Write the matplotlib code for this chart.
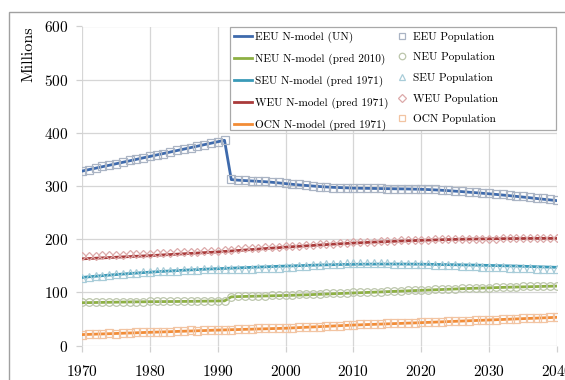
import matplotlib
matplotlib.use("Agg")
import matplotlib.pyplot as plt
from matplotlib.patches import Rectangle

plt.rcParams["font.family"] = ["cmr10", "DejaVu Serif"]
plt.rcParams["axes.formatter.use_mathtext"] = True

years = list(range(1970, 2041))

# N-model curves (millions)
eeu_model = [328, 330.8, 333.5, 336.3, 339, 341.8, 344.6, 347.3, 350.1, 352.9,
             355.6, 358.4, 361.1, 363.9, 366.7, 369.4, 372.2, 374.9, 377.7, 380.5,
             383.2, 386, 312, 311, 310.2, 309.5, 308.8, 308, 307, 305.8,
             304.5, 303.2, 302, 301, 300, 299, 298.2, 297.5, 297, 296.5,
             296, 295.8, 295.6, 295.4, 295.2, 295, 294.8, 294.6, 294.4, 294.1,
             293.8, 293.3, 292.7, 292, 291.2, 290.3, 289.4, 288.4, 287.4, 286.4,
             285.3, 284.2, 283, 281.8, 280.5, 279.2, 277.9, 276.5, 275.1, 273.8,
             272.5]
neu_model = [80.5, 80.7, 80.9, 81.1, 81.3, 81.5, 81.7, 81.9, 82.1, 82.2,
             82.4, 82.5, 82.6, 82.7, 82.8, 82.9, 83.0, 83.2, 83.4, 83.6,
             83.8, 84.0, 91.5, 92.0, 92.3, 92.6, 92.9, 93.2, 93.5, 93.8,
             94.1, 94.5, 94.9, 95.3, 95.8, 96.3, 96.8, 97.3, 97.8, 98.3,
             98.8, 99.3, 99.8, 100.3, 100.8, 101.3, 101.8, 102.3, 102.8, 103.3,
             103.8, 104.3, 104.8, 105.3, 105.8, 106.3, 106.8, 107.3, 107.7, 108.1,
             108.5, 108.9, 109.3, 109.7, 110.0, 110.3, 110.6, 110.9, 111.2, 111.5,
             111.8]
seu_model = [128, 129.2, 130.3, 131.4, 132.4, 133.4, 134.4, 135.3, 136.2, 137.1,
             137.9, 138.7, 139.5, 140.2, 140.9, 141.6, 142.2, 142.8, 143.4, 144.0,
             144.5, 145.0, 145.5, 146.0, 146.5, 147.0, 147.5, 148.0, 148.5, 149.0,
             149.4, 149.8, 150.2, 150.6, 151.0, 151.4, 151.7, 152.0, 152.3, 152.5,
             152.7, 152.9, 153.0, 153.1, 153.2, 153.2, 153.2, 153.2, 153.1, 153.0,
             152.9, 152.7, 152.5, 152.3, 152.1, 151.9, 151.7, 151.4, 151.2, 150.9,
             150.6, 150.3, 150.0, 149.7, 149.4, 149.0, 148.6, 148.2, 147.8, 147.4,
             147.0]
weu_model = [163, 163.6, 164.2, 164.8, 165.4, 166, 166.6, 167.2, 167.8, 168.4,
             169, 169.7, 170.4, 171.1, 171.8, 172.5, 173.2, 173.9, 174.6, 175.3,
             176, 176.9, 177.8, 178.7, 179.6, 180.5, 181.4, 182.3, 183.2, 184.1,
             185, 185.8, 186.6, 187.4, 188.2, 189, 189.8, 190.6, 191.3, 192,
             192.7, 193.3, 193.9, 194.5, 195, 195.5, 196, 196.5, 197, 197.4,
             197.8, 198.2, 198.6, 199, 199.3, 199.6, 199.9, 200.1, 200.3, 200.5,
             200.7, 200.9, 201, 201.1, 201.2, 201.3, 201.4, 201.5, 201.5, 201.5,
             201.5]
ocn_model = [20.5, 20.9, 21.4, 21.8, 22.2, 22.6, 23.1, 23.5, 23.9, 24.4,
             24.8, 25.2, 25.6, 26.0, 26.5, 26.9, 27.3, 27.7, 28.1, 28.6,
             29.0, 29.3, 29.7, 30.0, 30.4, 30.7, 31.1, 31.4, 31.8, 32.1,
             32.5, 33.1, 33.7, 34.3, 34.9, 35.5, 36.1, 36.7, 37.3, 37.9,
             38.5, 38.9, 39.4, 39.8, 40.3, 40.7, 41.2, 41.6, 42.1, 42.5,
             43.0, 43.5, 44.0, 44.5, 45.0, 45.5, 46.0, 46.5, 47.0, 47.5,
             48.0, 48.5, 49.0, 49.5, 50.0, 50.5, 51.0, 51.5, 52.0, 52.5,
             53.0]

# observed / projected population (millions)
eeu_pop = [329, 331, 334, 337, 339, 342, 345, 348, 350, 353,
           356, 359, 361, 364, 367, 370, 372, 375, 378, 380,
           383, 386, 313, 312, 311, 310, 309, 309, 308, 307,
           305, 304, 303, 301, 300, 299, 298, 297, 297, 296,
           296, 295.5, 295.5, 295.5, 295.5, 295, 295, 295, 294.5, 294.5,
           294, 294, 293.5, 293, 292, 291.5, 290.5, 289.5, 288.5, 287.5,
           286.5, 285.5, 284.5, 283, 282, 280.5, 279.5, 278, 276.5, 275,
           274]
neu_pop = [81, 81, 81.5, 81.5, 82, 82, 82, 82.5, 82.5, 82.5,
           83, 83, 83, 83, 83, 83.5, 83.5, 83.5, 84, 84,
           84.5, 84.5, 92, 92.5, 93, 93.5, 93.5, 94, 94.5, 95,
           95, 95.5, 96, 96.5, 97, 97.5, 98, 98.5, 99, 99.5,
           100, 100.5, 101, 101, 101.5, 102, 102.5, 103, 103.5, 104,
           104.5, 105, 105.5, 106, 106.5, 107, 107.5, 108, 108.5, 109,
           109, 109.5, 110, 110.5, 110.5, 111, 111.5, 111.5, 112, 112.5,
           112.5]
seu_pop = [127, 128.5, 130, 131.5, 132.5, 134, 135, 136, 137, 138,
           139, 139.5, 140, 140.5, 141, 141.5, 142, 142.5, 143, 143.5,
           144, 144, 144, 144, 144, 144.5, 145, 145.5, 146, 146.5,
           147, 148, 149, 150, 151, 152, 153, 153.5, 154, 154.5,
           155, 155, 155, 155, 154.5, 154.5, 154, 154, 153.5, 153.5,
           153, 152.5, 152, 151.5, 151, 150.5, 150, 149.5, 149, 148.5,
           148, 147.5, 147, 146.5, 146, 145.5, 145, 144.5, 144, 143.5,
           143]
weu_pop = [168, 168.5, 169, 169.5, 170, 170.5, 171, 171.5, 172, 172.5,
           173, 173.5, 174, 174.5, 175, 175.5, 176, 176.5, 177, 177.5,
           178.5, 179.5, 180.5, 181.5, 182.5, 183.5, 184, 184.5, 185, 185.5,
           186.5, 187, 188, 188.5, 189.5, 190, 191, 191.5, 192.5, 193,
           194, 194.5, 195, 195.5, 196, 196.5, 197, 197.5, 198, 198.5,
           198.5, 199, 199.5, 199.5, 200, 200, 200.5, 200.5, 200.5, 201,
           201, 201, 201.5, 201.5, 201.5, 201.5, 202, 202, 202, 202,
           202]
ocn_pop = [20, 21, 21.5, 22.5, 23, 22.5, 23.5, 24, 25, 24.5,
           25, 25.5, 26, 25.5, 27, 27, 28.5, 27.5, 29, 29,
           29.5, 29.5, 30, 30.5, 31, 31.5, 32.5, 32, 32.5, 33,
           33, 33, 34, 35, 35, 35.5, 36, 37, 37.5, 38.5,
           39, 39.5, 40, 40, 41, 41.5, 41.5, 42.5, 43, 43,
           44, 44, 44.5, 44.5, 45.5, 46, 46.5, 47, 47.5, 47.5,
           48.5, 48.5, 49, 50, 50.5, 51.5, 51.5, 52, 52.5, 53,
           53.5]

model_labels = ["EEU N-model (UN)", "NEU N-model (pred 2010)",
                "SEU N-model (pred 1971)", "WEU N-model (pred 1971)",
                "OCN N-model (pred 1971)"]
pop_labels = ["EEU Population", "NEU Population", "SEU Population",
              "WEU Population", "OCN Population"]

models = [eeu_model, neu_model, seu_model, weu_model, ocn_model]
pops = [eeu_pop, neu_pop, seu_pop, weu_pop, ocn_pop]

line_colors = ["#3e6aac", "#8db043", "#3a9ab8", "#a93a3a", "#f28c36"]
marker_colors = ["#aab4c4", "#bcc6ac", "#a8ccd8", "#dcaaaa", "#f2c4a2"]
marker_shapes = ["s", "o", "^", "D", "s"]
marker_sizes = [5.5, 5.5, 5.5, 4.5, 5.5]

W, H = 565, 380
fig = plt.figure(figsize=(W / 100, H / 100), dpi=100)
ax = fig.add_axes([82 / W, 1 - 345.5 / H, 475 / W, 319 / H])

model_handles = []
for vals, lab, c in zip(models, model_labels, line_colors):
    h, = ax.plot(years, vals, color=c, lw=2.0, label=lab, zorder=3)
    model_handles.append(h)

pop_handles = []
for vals, lab, c, m, ms in zip(pops, pop_labels, marker_colors, marker_shapes, marker_sizes):
    h, = ax.plot(years, vals, ls="none", marker=m, ms=ms, mfc="none",
                 mec=c, mew=0.9, label=lab, zorder=4)
    pop_handles.append(h)

ax.set_xlim(1970, 2040)
ax.set_ylim(0, 600)
ax.set_xticks(range(1970, 2041, 10))
ax.set_yticks(range(0, 601, 100))
ax.grid(True, color="#d6d6d6", lw=0.9)
for s in ax.spines.values():
    s.set_visible(False)
ax.tick_params(axis="both", colors="#d0d0d0", labelcolor="black",
               labelsize=11, length=4, width=0.9)
ax.tick_params(axis="y", pad=6)
ax.tick_params(axis="x", pad=9)
ax.set_ylabel("Millions", fontsize=11.5, loc="top", labelpad=6)

# legend box drawn separately so it can keep the wide right margin
leg_box = Rectangle((230 / W, 1 - 130 / H), 326 / W, 103 / H,
                    transform=fig.transFigure, facecolor="white",
                    edgecolor="#a8a8a8", lw=0.9, zorder=5)
ax.add_patch(leg_box)
leg_box.set_clip_on(False)

leg = ax.legend(model_handles + pop_handles, model_labels + pop_labels,
                ncol=2, loc="upper left",
                bbox_to_anchor=(231 / W, 1 - 28 / H),
                bbox_transform=fig.transFigure,
                fontsize=8.1, frameon=False, numpoints=1, markerscale=0.85,
                handlelength=1.6, handletextpad=0.2, labelspacing=0.95,
                columnspacing=0.45, borderaxespad=0, borderpad=0.3)
leg.set_zorder(6)

# outer border of the figure panel
fig.patches.append(Rectangle((9 / W, -0.2), 1.2, 1.2 - 12 / H,
                             transform=fig.transFigure, fill=False,
                             edgecolor="#a0a0a0", lw=1.0, clip_on=False))

fig.savefig("out.png", dpi=100)
